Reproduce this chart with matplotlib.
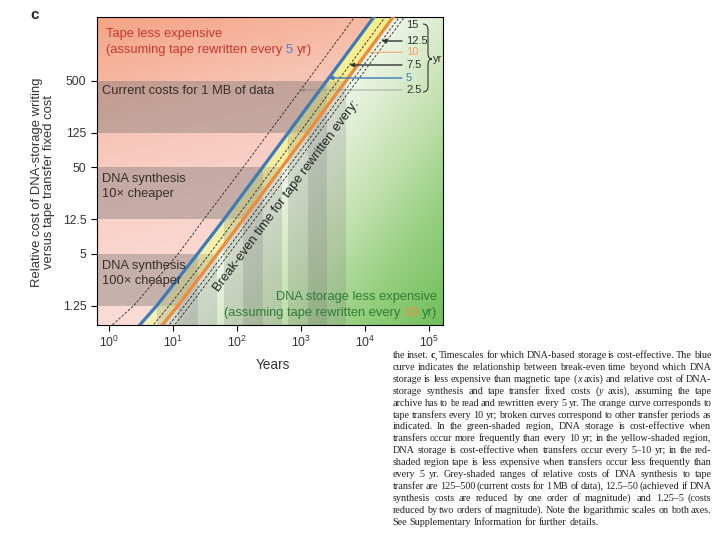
import numpy as np
import matplotlib
matplotlib.use('Agg')
import matplotlib.pyplot as plt
from matplotlib.patches import Polygon, PathPatch
from matplotlib.path import Path
from matplotlib.transforms import IdentityTransform
from matplotlib.ticker import FixedLocator, FixedFormatter, LogFormatterMathtext, NullLocator
from matplotlib.colors import to_rgb

plt.rcParams['font.family'] = ['Liberation Sans', 'DejaVu Sans']
plt.rcParams['mathtext.fontset'] = 'custom'
plt.rcParams['mathtext.rm'] = 'Liberation Sans'
plt.rcParams['mathtext.it'] = 'Liberation Sans:italic'
plt.rcParams['mathtext.bf'] = 'Liberation Sans:bold'

# ---------------- data ----------------
cost_levels = [0.7, 1.25, 5, 12.5, 50, 125, 500, 3000]      # relative cost (y)
years_2p5 = [1.0, 2.4, 12, 30, 124, 310, 1250, 7500]         # break-even years (x)
years_5 = [2.75, 5.5, 24, 62, 249, 624, 2500, 15000]
years_7p5 = [4.5, 8.6, 37, 93, 374, 937, 3750, 22500]
years_10 = [6.25, 11.8, 49, 124, 499, 1250, 5000, 30000]
years_12p5 = [8.0, 14.9, 62, 155, 624, 1560, 6250, 37500]
years_15 = [9.75, 18, 74, 187, 749, 1875, 7500, 45000]
band_ranges = [(1.25, 5), (12.5, 50), (125, 500)]
band_texts = ['DNA synthesis\n100\u00d7 cheaper', 'DNA synthesis\n10\u00d7 cheaper',
              'Current costs for 1 MB of data']
y_ticks = [1.25, 5, 12.5, 50, 125, 500]
y_tick_labels = ['1.25', '5', '12.5', '50', '125', '500']
x_ticks = [1e0, 1e1, 1e2, 1e3, 1e4, 1e5]
period_labels = ['15', '12.5', '10', '7.5', '5', '2.5']

caption_lines = [
    "the inset. #c#, Timescales for which DNA-based storage is cost-effective. The blue",
    "curve indicates the relationship between break-even time beyond which DNA",
    "storage is less expensive than magnetic tape (*x* axis) and relative cost of DNA-",
    "storage synthesis and tape transfer fixed costs (*y* axis), assuming the tape",
    "archive has to be read and rewritten every 5 yr. The orange curve corresponds to",
    "tape transfers every 10 yr; broken curves correspond to other transfer periods as",
    "indicated. In the green-shaded region, DNA storage is cost-effective when",
    "transfers occur more frequently than every 10 yr; in the yellow-shaded region,",
    "DNA storage is cost-effective when transfers occur every 5\u201310 yr; in the red-",
    "shaded region tape is less expensive when transfers occur less frequently than",
    "every 5 yr. Grey-shaded ranges of relative costs of DNA synthesis to tape",
    "transfer are 125\u2013500 (current costs for 1 MB of data), 12.5\u201350 (achieved if DNA",
    "synthesis costs are reduced by one order of magnitude) and 1.25\u20135 (costs",
    "reduced by two orders of magnitude). Note the logarithmic scales on both axes.",
    "See Supplementary Information for further details.",
]

curves = {'2.5': years_2p5, '5': years_5, '7.5': years_7p5,
          '10': years_10, '12.5': years_12p5, '15': years_15}


def t_at(years, c):
    return 10 ** np.interp(np.log10(c), np.log10(cost_levels), np.log10(years))


# ---------------- figure / axes ----------------
W, H = 720, 540
fig = plt.figure(figsize=(7.2, 5.4), dpi=100)
ID = IdentityTransform()
ax_l, ax_r, ax_t, ax_b = 96.7, 443.3, 17.3, 324.5
ax = fig.add_axes([ax_l / W, 1 - ax_b / H, (ax_r - ax_l) / W, (ax_b - ax_t) / H])
ax.set_xscale('log')
ax.set_yscale('log')
XMIN, XMAX = 0.635, 1.655e5
YMIN, YMAX = 0.759, 2704
ax.set_xlim(XMIN, XMAX)
ax.set_ylim(YMIN, YMAX)
ax.set_autoscale_on(False)

BLUE = '#3d7ab8'
ORANGE = '#ee8a3a'

# ---------------- background gradients ----------------
nW, nH = 694, 614
cols = (np.arange(nW) + 0.5) / nW
rows = (np.arange(nH) + 0.5) / nH
lx0, lx1 = np.log10(XMIN), np.log10(XMAX)
ly0, ly1 = np.log10(YMIN), np.log10(YMAX)
cvals = 10 ** (ly1 - rows * (ly1 - ly0))
xb = (np.log10(t_at(years_5, cvals)) - lx0) / (lx1 - lx0)
xo = (np.log10(t_at(years_10, cvals)) - lx0) / (lx1 - lx0)
Hg, Vg = np.meshgrid(cols, rows)


def ramp(s, stops):
    pos = [p for p, _ in stops]
    cc = np.array([to_rgb(h) for _, h in stops])
    return np.stack([np.interp(s, pos, cc[:, k]) for k in range(3)], -1)


red_rgb = ramp(np.clip(Vg + 0.3 * Hg, 0, 1),
               [(0, '#f4a383'), (0.35, '#f7c3b3'), (0.6, '#f9d0c6'), (1, '#fbdcd5')])
yel_rgb = ramp(Vg, [(0, '#f7ee8c'), (1, '#f3f0b8')])
dist = (Hg - xo[:, None]) * (ax_r - ax_l) * np.sin(np.radians(53.5))
green_rgb = ramp(dist, [(0, '#eef6e9'), (30, '#e1efd6'), (90, '#c0e0ad'),
                        (150, '#97cf80'), (230, '#6dbd57')])
red_mask = Hg < xb[:, None]
yel_mask = (Hg >= xb[:, None]) & (Hg < xo[:, None])
img = np.where(red_mask[..., None], red_rgb,
               np.where(yel_mask[..., None], yel_rgb, green_rgb))
ax.imshow(img, extent=(0, 1, 0, 1), transform=ax.transAxes, origin='upper',
          aspect='auto', interpolation='bilinear', zorder=0)

# ---------------- grey ranges ----------------
for lo, hi in band_ranges:
    for yrs in (years_5, years_10):
        tlo, thi = t_at(yrs, lo), t_at(yrs, hi)
        verts = [(0.01, lo), (tlo, lo), (tlo, 0.1), (thi, 0.1), (thi, hi), (0.01, hi)]
        ax.add_patch(Polygon(verts, closed=True, fc='#6a6a6a', alpha=0.2, lw=0, zorder=1))

# ---------------- curves ----------------
for key in ['2.5', '7.5', '12.5', '15']:
    ax.plot(curves[key], cost_levels, color='#222222', lw=0.6, ls=(0, (3, 2)), zorder=3)
ax.plot(years_5, cost_levels, color=BLUE, lw=2.3, zorder=4, solid_capstyle='butt')
ax.plot(years_10, cost_levels, color=ORANGE, lw=2.3, zorder=4, solid_capstyle='butt')

ax.set_xlim(XMIN, XMAX)
ax.set_ylim(YMIN, YMAX)

# ---------------- ticks ----------------
ax.xaxis.set_major_locator(FixedLocator(x_ticks))
ax.xaxis.set_major_formatter(LogFormatterMathtext())
ax.xaxis.set_minor_locator(NullLocator())
ax.yaxis.set_major_locator(FixedLocator(y_ticks))
ax.yaxis.set_major_formatter(FixedFormatter(y_tick_labels))
ax.yaxis.set_minor_locator(NullLocator())
ax.tick_params(direction='out', length=4, width=0.8, labelsize=8.8,
               labelcolor='#333333', pad=3.5)
for sp in ax.spines.values():
    sp.set_linewidth(0.8)

renderer = fig.canvas.get_renderer()


def measure(s, props):
    t = fig.text(0, 0, s, transform=ID, **props)
    w = t.get_window_extent(renderer).width
    t.remove()
    return w


def draw_segments(x, y_img, segments, base, ha='left'):
    """segments: list of (text, props); consecutive segments are separated by one space."""
    space = measure('a a', base) - measure('aa', base)
    widths = [measure(s, {**base, **p}) for s, p in segments]
    total = sum(widths) + space * (len(segments) - 1)
    cur = x if ha == 'left' else x - total
    for (s, p), wd in zip(segments, widths):
        fig.text(cur, H - y_img, s, transform=ID, ha='left', va='baseline', **{**base, **p})
        cur += wd + space


def draw_justified(x, y_img, words, base, justify=None):
    widths = [sum(measure(t, {**base, **p}) for t, p in w) for w in words]
    space = measure('a a', base) - measure('aa', base)
    if justify is not None and len(words) > 1:
        gap = (justify - sum(widths)) / (len(words) - 1)
    else:
        gap = space
    cur = x
    for w, wd in zip(words, widths):
        cx = cur
        for t, p in w:
            pr = {**base, **p}
            fig.text(cx, H - y_img, t, transform=ID, ha='left', va='baseline', **pr)
            cx += measure(t, pr)
        cur += wd + gap


def markup_words(line):
    words = []
    for tok in line.split():
        parts, buf, ital, bold = [], '', False, False
        for ch in tok:
            if ch in '*#':
                if buf:
                    parts.append((buf, {'style': 'italic' if ital else 'normal',
                                        'weight': 'bold' if bold else 'normal'}))
                    buf = ''
                if ch == '*':
                    ital = not ital
                else:
                    bold = not bold
            else:
                buf += ch
        if buf:
            parts.append((buf, {'style': 'italic' if ital else 'normal',
                                'weight': 'bold' if bold else 'normal'}))
        words.append(parts)
    return words


# ---------------- in-plot texts ----------------
sans = {'family': ['Liberation Sans', 'DejaVu Sans'], 'size': 9.3}
RED_TXT = '#c43a2f'
GREEN_TXT = '#2f7d36'
draw_segments(106, 37, [('Tape less expensive', {})], {**sans, 'color': RED_TXT})
draw_segments(106, 53, [('(assuming tape rewritten every', {}),
                        ('5', {'color': '#4f86c6'}), ('yr)', {})],
              {**sans, 'color': RED_TXT})
draw_segments(437, 300, [('DNA storage less expensive', {})],
              {**sans, 'color': GREEN_TXT}, ha='right')
draw_segments(437, 316, [('(assuming tape rewritten every', {}),
                        ('10', {'color': '#f08c3c'}), ('yr)', {})],
              {**sans, 'color': GREEN_TXT}, ha='right')

band_text_y = [(269, 284), (182, 197), (94,)]
for txt, ys in zip(band_texts, band_text_y):
    for line, yy in zip(txt.split('\n'), ys):
        draw_segments(101.7, yy, [(line, {})], {**sans, 'color': '#352f2c'})

fig.text(287, H - 196, 'Break-even time for tape rewritten every:', transform=ID,
         rotation=53.3, rotation_mode='anchor', ha='center', va='center',
         fontsize=9.4, color='#222222')

# ---------------- period labels with leaders ----------------
label_y = [25, 41, 52.3, 65, 78, 90]
label_col = ['#333333', '#333333', '#f3a064', '#333333', BLUE, '#333333']
for lab, yy, col in zip(period_labels, label_y, label_col):
    fig.text(406, H - yy, lab, transform=ID, ha='left', va='center', fontsize=8, color=col)
    if lab == '15':
        continue
    cval = ax.transData.inverted().transform((200, H - yy))[1]
    tval = t_at(curves[lab], cval)
    if lab == '10':
        props = dict(arrowstyle='-', color='#f3a064', lw=0.7)
    elif lab == '2.5':
        props = dict(arrowstyle='-|>', color='#888888', lw=0.5, mutation_scale=5)
    elif lab == '5':
        props = dict(arrowstyle='-|>', color=BLUE, lw=1.0, mutation_scale=6)
    else:
        props = dict(arrowstyle='-|>', color='#333333', lw=1.0, mutation_scale=6)
    props.update(shrinkA=0, shrinkB=0)
    ax.annotate('', xy=(tval, cval), xycoords='data', xytext=(402, H - yy),
                textcoords=ID, arrowprops=props, annotation_clip=False, zorder=6)

# brace and "yr"
bx0, bx1, btip = 423, 428, 432
yt, ym, yb = 24, 59, 92
bverts = [(bx0, yt), (bx1, yt), (bx1, yt + 6), (bx1, ym - 6), (bx1, ym), (btip, ym),
          (bx1, ym), (bx1, ym + 6), (bx1, yb - 6), (bx1, yb), (bx0, yb)]
bcodes = [Path.MOVETO, Path.CURVE3, Path.CURVE3, Path.LINETO, Path.CURVE3, Path.CURVE3,
          Path.CURVE3, Path.CURVE3, Path.LINETO, Path.CURVE3, Path.CURVE3]
bpath = Path([(x, H - y) for x, y in bverts], bcodes)
fig.add_artist(PathPatch(bpath, transform=ID, fill=False, lw=0.8, ec='#333333'))
fig.text(432.5, H - ym, 'yr', transform=ID, ha='left', va='center', fontsize=8, color='#333333')

# ---------------- axis labels ----------------
fig.text(43, H - 182, 'Relative cost of DNA-storage writing\nversus tape transfer fixed cost',
         transform=ID, rotation=90, ha='center', va='center', fontsize=9.4,
         linespacing=1.05, color='#333333')
fig.text(273, H - 365, 'Years', transform=ID, ha='center', va='center', fontsize=9.8,
         color='#333333')
fig.text(35, H - 15, 'c', transform=ID, ha='center', va='center', fontsize=11,
         fontweight='bold', color='#222222')

# ---------------- caption ----------------
serif = {'family': ['Liberation Serif', 'DejaVu Serif'], 'size': 7.3, 'color': '#222222'}
for i, line in enumerate(caption_lines):
    yy = 355 + 11.9 * i + 3
    last = i == len(caption_lines) - 1
    draw_justified(392.5, yy, markup_words(line), serif,
                   justify=None if last else 319)

fig.savefig('out.png', dpi=100)
